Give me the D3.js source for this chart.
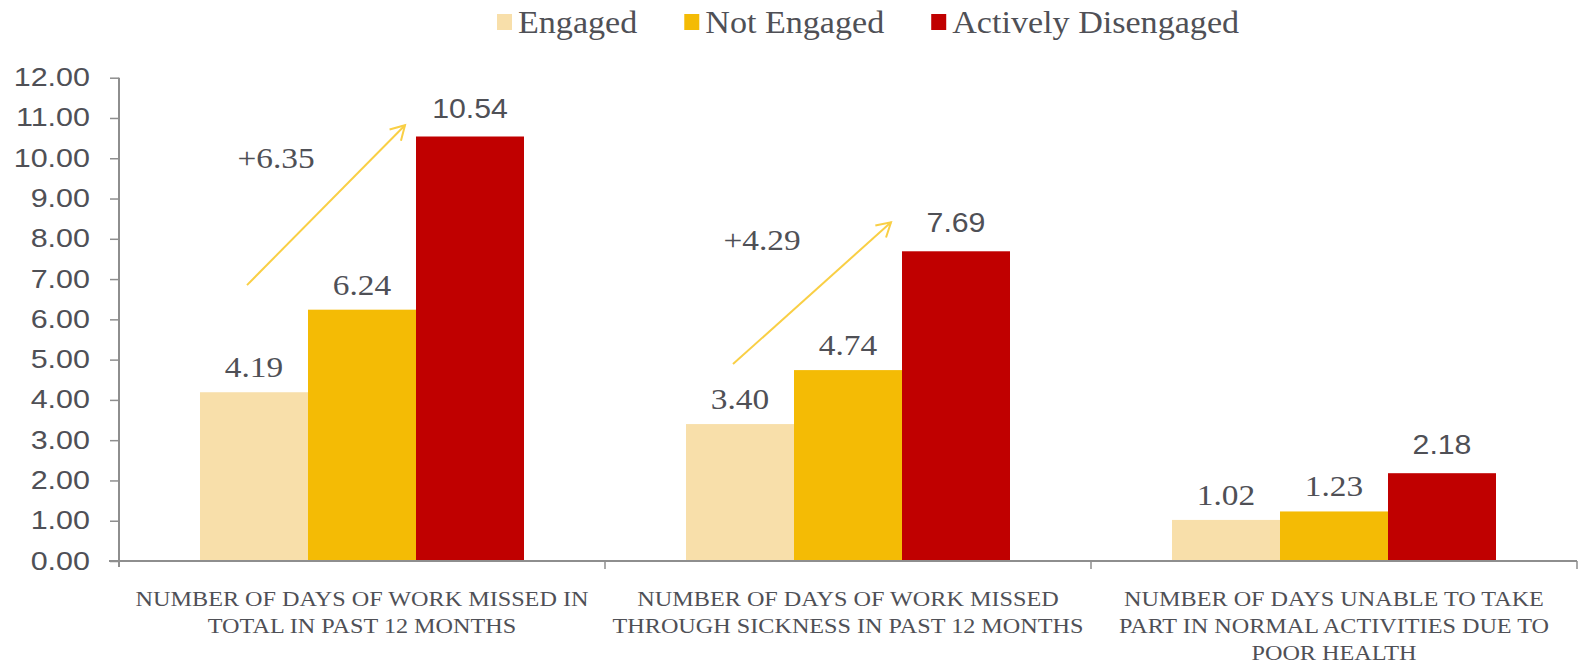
<!DOCTYPE html>
<html><head><meta charset="utf-8">
<script src="https://cdn.jsdelivr.net/npm/d3@7"></script>
<style>html,body{margin:0;padding:0;background:#fff;}svg{display:block;}</style>
</head><body>
<svg id="chart" width="1578" height="665"></svg>
<script>
const categories = [
  "NUMBER OF DAYS OF WORK MISSED IN\nTOTAL IN PAST 12 MONTHS",
  "NUMBER OF DAYS OF WORK MISSED\nTHROUGH SICKNESS IN PAST 12 MONTHS",
  "NUMBER OF DAYS UNABLE TO TAKE\nPART IN NORMAL ACTIVITIES DUE TO\nPOOR HEALTH"
];
const seriesNames = ["Engaged", "Not Engaged", "Actively Disengaged"];
const engaged = [4.19, 3.40, 1.02];
const notEngaged = [6.24, 4.74, 1.23];
const activelyDisengaged = [10.54, 7.69, 2.18];
const yTicks = [0, 1, 2, 3, 4, 5, 6, 7, 8, 9, 10, 11, 12];
const arrowLabels = ["+6.35", "+4.29"];
const arrowFrom = [6.85, 4.89];
const arrowTo = [10.82, 8.41];
const arrowLabelAt = [9.75, 7.72];

const colors = ["#F8DFAA", "#F4BB05", "#C00000"];
const textColor = "#4f5056";
const axisColor = "#8e8e8e";
const serif = "'Liberation Serif', 'Times New Roman', serif";
const sans = "'Liberation Sans', Arial, sans-serif";

const svg = d3.select("#chart");
const x = d3.scaleBand().domain(categories).range([119, 1577]).paddingInner(0).paddingOuter(0);
const xSub = d3.scaleBand().domain(seriesNames).range([0, x.bandwidth()]).paddingOuter(0.75).paddingInner(0);
const y = d3.scaleLinear().domain([0, 12]).range([561, 77.7]);

const values = [engaged, notEngaged, activelyDisengaged];

// bars
seriesNames.forEach((s, si) => {
  svg.append("g").selectAll("rect").data(categories).join("rect")
    .attr("x", c => x(c) + xSub(s))
    .attr("width", xSub.bandwidth())
    .attr("y", (c, i) => y(values[si][i]))
    .attr("height", (c, i) => y(0) - y(values[si][i]))
    .attr("fill", colors[si]);
});

// y axis
const yAxis = svg.append("g").attr("transform", "translate(119,0)")
  .call(d3.axisLeft(y).tickValues(yTicks).tickFormat(d3.format(".2f")).tickSize(9).tickSizeOuter(0));
yAxis.select(".domain").attr("stroke", axisColor).attr("stroke-width", 2)
  .attr("d", `M0,${y(12)}V${y(0) + 6}`);
yAxis.selectAll(".tick line").attr("stroke", axisColor).attr("stroke-width", 1.5);
yAxis.selectAll(".tick text")
  .attr("x", 0)
  .attr("transform", "translate(-29,0) scale(1.22,1)")
  .attr("fill", textColor)
  .style("font-family", sans).style("font-size", "25px");

// x axis
const xAxisG = svg.append("g");
xAxisG.append("line").attr("x1", 109).attr("x2", x.range()[1]).attr("y1", y(0)).attr("y2", y(0))
  .attr("stroke", axisColor).attr("stroke-width", 2);
const bounds = categories.map(c => x(c)).concat([x(categories[categories.length - 1]) + x.bandwidth()]);
xAxisG.selectAll("line.tk").data(bounds.slice(1)).join("line").attr("class", "tk")
  .attr("x1", d => d).attr("x2", d => d).attr("y1", y(0)).attr("y2", y(0) + 8)
  .attr("stroke", axisColor).attr("stroke-width", 1.5);

// category labels
categories.forEach(c => {
  const lines = c.split("\n");
  lines.forEach((ln, li) => {
    svg.append("text")
      .attr("transform", `translate(${x(c) + x.bandwidth() / 2},${606 + li * 27}) scale(1.1,1)`)
      .attr("text-anchor", "middle")
      .attr("fill", textColor)
      .style("font-family", serif).style("font-size", "22px")
      .text(ln);
  });
});

// value labels
seriesNames.forEach((s, si) => {
  categories.forEach((c, i) => {
    const v = values[si][i];
    const isSans = si === 2;
    svg.append("text")
      .attr("transform", `translate(${x(c) + xSub(s) + xSub.bandwidth() / 2},${y(v) - (isSans ? 19 : 15)}) scale(${isSans ? 1.08 : 1.15},1)`)
      .attr("text-anchor", "middle")
      .attr("fill", textColor)
      .style("font-family", isSans ? sans : serif)
      .style("font-size", isSans ? "28px" : "29px")
      .text(v.toFixed(2));
  });
});

// arrows
const arrowColor = "#F9CF45";
arrowLabels.forEach((lab, i) => {
  const c = categories[i];
  const x0 = x(c) + xSub("Engaged") + xSub.bandwidth() / 2 - 7;
  const x1 = x(c) + xSub("Actively Disengaged") - 11;
  const y0 = y(arrowFrom[i]), y1 = y(arrowTo[i]);
  svg.append("line").attr("x1", x0).attr("y1", y0).attr("x2", x1).attr("y2", y1)
    .attr("stroke", arrowColor).attr("stroke-width", 2);
  const ang = Math.atan2(y1 - y0, x1 - x0);
  const L = 16, a = Math.PI / 6;
  const p1 = [x1 - L * Math.cos(ang - a), y1 - L * Math.sin(ang - a)];
  const p2 = [x1 - L * Math.cos(ang + a), y1 - L * Math.sin(ang + a)];
  svg.append("path").attr("d", `M${p1}L${x1},${y1}L${p2}`)
    .attr("fill", "none").attr("stroke", arrowColor).attr("stroke-width", 2);
  svg.append("text")
    .attr("transform", `translate(${x0 + 29},${y(arrowLabelAt[i])}) scale(1.15,1)`)
    .attr("text-anchor", "middle")
    .attr("fill", textColor)
    .style("font-family", serif).style("font-size", "29px")
    .text(lab);
});

// legend
const legend = svg.append("g");
const legendStart = 497;
let lx = legendStart;
seriesNames.forEach((s, si) => {
  const g = legend.append("g");
  g.append("rect").attr("x", lx).attr("y", 14).attr("width", 15).attr("height", 16).attr("fill", colors[si]);
  const t = g.append("text")
    .attr("transform", `translate(${lx + 21},33) scale(1.1,1)`)
    .attr("fill", textColor)
    .style("font-family", serif).style("font-size", "31px")
    .text(s);
  const w = t.node().getComputedTextLength() * 1.1;
  lx += 21 + w + 47;
});
</script>
</body></html>
